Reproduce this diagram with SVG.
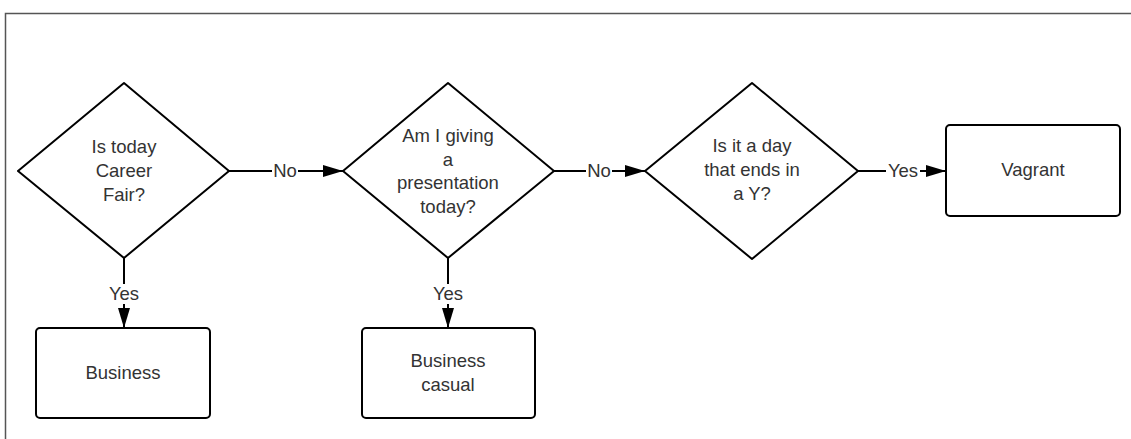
<svg xmlns="http://www.w3.org/2000/svg" width="1131" height="439" viewBox="0 0 1131 439">
<style>
.shape{fill:#fff;stroke:#000;stroke-width:2;stroke-linejoin:round}
.t{font-family:"Liberation Sans",Arial,sans-serif;font-size:18.5px;fill:#333;text-anchor:middle}
.c{stroke:#000;stroke-width:2;fill:none}
.lbl{fill:#fff}
</style>
<defs>
<marker id="ah" viewBox="0 0 20 12" refX="20" refY="6" markerWidth="20" markerHeight="12" markerUnits="userSpaceOnUse" orient="auto">
<path d="M0,0 L20,6 L0,12 Z" fill="#000"/>
</marker>
</defs>
<rect width="1131" height="439" fill="#fff"/>
<path d="M5.5,439 V13.5 H1131" fill="none" stroke="#555" stroke-width="1.5"/>
<g id="connectors">
<path class="c" d="M229,171 H343" marker-end="url(#ah)"/>
<rect class="lbl" x="272" y="160" width="26" height="22"/>
<text class="t" x="285" y="177">No</text>
<path class="c" d="M554,171 H645" marker-end="url(#ah)"/>
<rect class="lbl" x="586" y="160" width="26" height="22"/>
<text class="t" x="599" y="177">No</text>
<path class="c" d="M858,171 H946" marker-end="url(#ah)"/>
<rect class="lbl" x="886" y="160" width="34" height="22"/>
<text class="t" x="903" y="177">Yes</text>
<path class="c" d="M124,258 V328" marker-end="url(#ah)"/>
<rect class="lbl" x="106" y="284" width="36" height="20"/>
<text class="t" x="124" y="300">Yes</text>
<path class="c" d="M448,258 V328" marker-end="url(#ah)"/>
<rect class="lbl" x="430" y="284" width="36" height="20"/>
<text class="t" x="448" y="300">Yes</text>
</g>
<g id="d1">
<path class="shape" d="M124,83 L229,171 L124,258 L18,171 Z"/>
<text class="t" x="124" y="153">Is today</text>
<text class="t" x="124" y="177">Career</text>
<text class="t" x="124" y="201">Fair?</text>
</g>
<g id="d2">
<path class="shape" d="M448,83 L554,171 L448,258 L343,171 Z"/>
<text class="t" x="448" y="142">Am I giving</text>
<text class="t" x="448" y="165.5">a</text>
<text class="t" x="448" y="189">presentation</text>
<text class="t" x="448" y="212.5">today?</text>
</g>
<g id="d3">
<path class="shape" d="M752,83 L858,171 L752,259 L645,171 Z"/>
<text class="t" x="752" y="152">Is it a day</text>
<text class="t" x="752" y="176">that ends in</text>
<text class="t" x="752" y="200">a Y?</text>
</g>
<g id="business">
<rect class="shape" x="36" y="328" width="174" height="90" rx="4"/>
<text class="t" x="123" y="379">Business</text>
</g>
<g id="business-casual">
<rect class="shape" x="362" y="328" width="173" height="90" rx="4"/>
<text class="t" x="448" y="367">Business</text>
<text class="t" x="448" y="391">casual</text>
</g>
<g id="vagrant">
<rect class="shape" x="946" y="125" width="174" height="91" rx="4"/>
<text class="t" x="1033" y="176">Vagrant</text>
</g>
</svg>
